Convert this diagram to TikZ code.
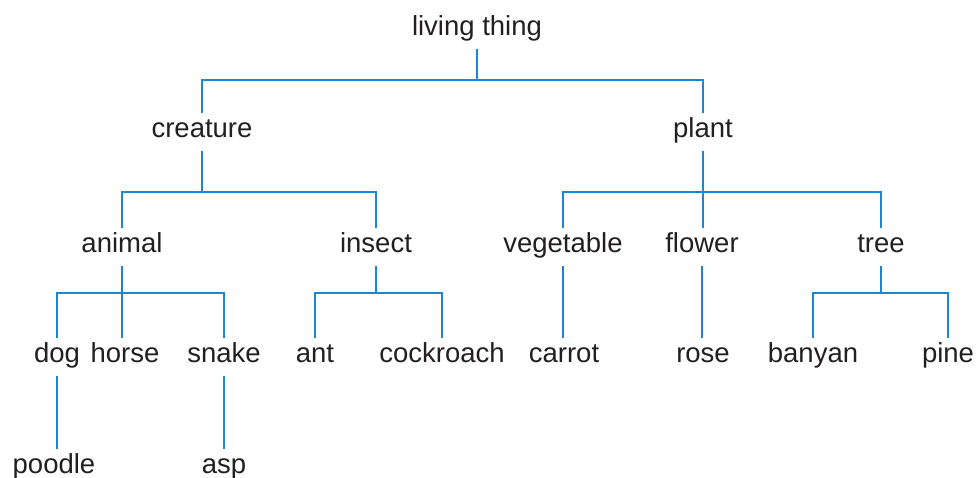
\documentclass[tikz,border=0pt]{standalone}
\usepackage{fontspec}
\setmainfont{Liberation Sans}
\definecolor{linkblue}{RGB}{28,134,208}
\definecolor{txtgray}{RGB}{35,31,32}
\begin{document}
\begin{tikzpicture}[x=1pt,y=-1pt,
    word/.style={anchor=base, inner sep=0pt, text height=24pt, text depth=14pt,
      text=txtgray, font=\fontsize{27.5}{32}\selectfont},
    branch/.style={draw=linkblue, line width=1.4pt}]
  \useasboundingbox (0,0) rectangle (976,477);
  % heights of the horizontal bars
  \coordinate (bar0) at (0,80);
  \coordinate (bar1) at (0,192);
  \coordinate (bar2) at (0,293);
  % the words
  \node[word] (living) at (477,35) {living thing};
  \node[word] (creature) at (202,137) {creature};
  \node[word] (plant) at (703,137) {plant};
  \node[word] (animal) at (122,252) {animal};
  \node[word] (insect) at (376,252) {insect};
  \node[word] (vegetable) at (563,252) {vegetable};
  \node[word] (flower) at (702,252) {flower};
  \node[word] (tree) at (881,252) {tree};
  \node[word] (dog) at (57,362) {dog};
  \node[word] (horse) at (125,362) {horse};
  \node[word] (snake) at (224,362) {snake};
  \node[word] (ant) at (315,362) {ant};
  \node[word] (cockroach) at (442,362) {cockroach};
  \node[word] (carrot) at (564,362) {carrot};
  \node[word] (rose) at (703,362) {rose};
  \node[word] (banyan) at (813,362) {banyan};
  \node[word] (pine) at (948,362) {pine};
  \node[word] (poodle) at (54,473) {poodle};
  \node[word] (asp) at (224,473) {asp};
  % the branches
  \draw[branch] (living.south) -- (living.south |- bar0);
  \draw[branch] (creature.north) |- (plant.north |- bar0) -- (plant.north);
  \draw[branch] (creature.south) -- (creature.south |- bar1);
  \draw[branch] (animal.north) |- (insect.north |- bar1) -- (insect.north);
  \draw[branch] (plant.south) -- (plant.south |- flower.north);
  \draw[branch] (vegetable.north) |- (tree.north |- bar1) -- (tree.north);
  \draw[branch] (animal.south) -- (animal.south |- horse.north);
  \draw[branch] (dog.north) |- (snake.north |- bar2) -- (snake.north);
  \draw[branch] (insect.south) -- (insect.south |- bar2);
  \draw[branch] (ant.north) |- (cockroach.north |- bar2) -- (cockroach.north);
  \draw[branch] (vegetable.south) -- (vegetable.south |- carrot.north);
  \draw[branch] (flower.south) -- (flower.south |- rose.north);
  \draw[branch] (tree.south) -- (tree.south |- bar2);
  \draw[branch] (banyan.north) |- (pine.north |- bar2) -- (pine.north);
  \draw[branch] (dog.south) -- (dog.south |- poodle.north);
  \draw[branch] (snake.south) -- (snake.south |- asp.north);
\end{tikzpicture}
\end{document}
